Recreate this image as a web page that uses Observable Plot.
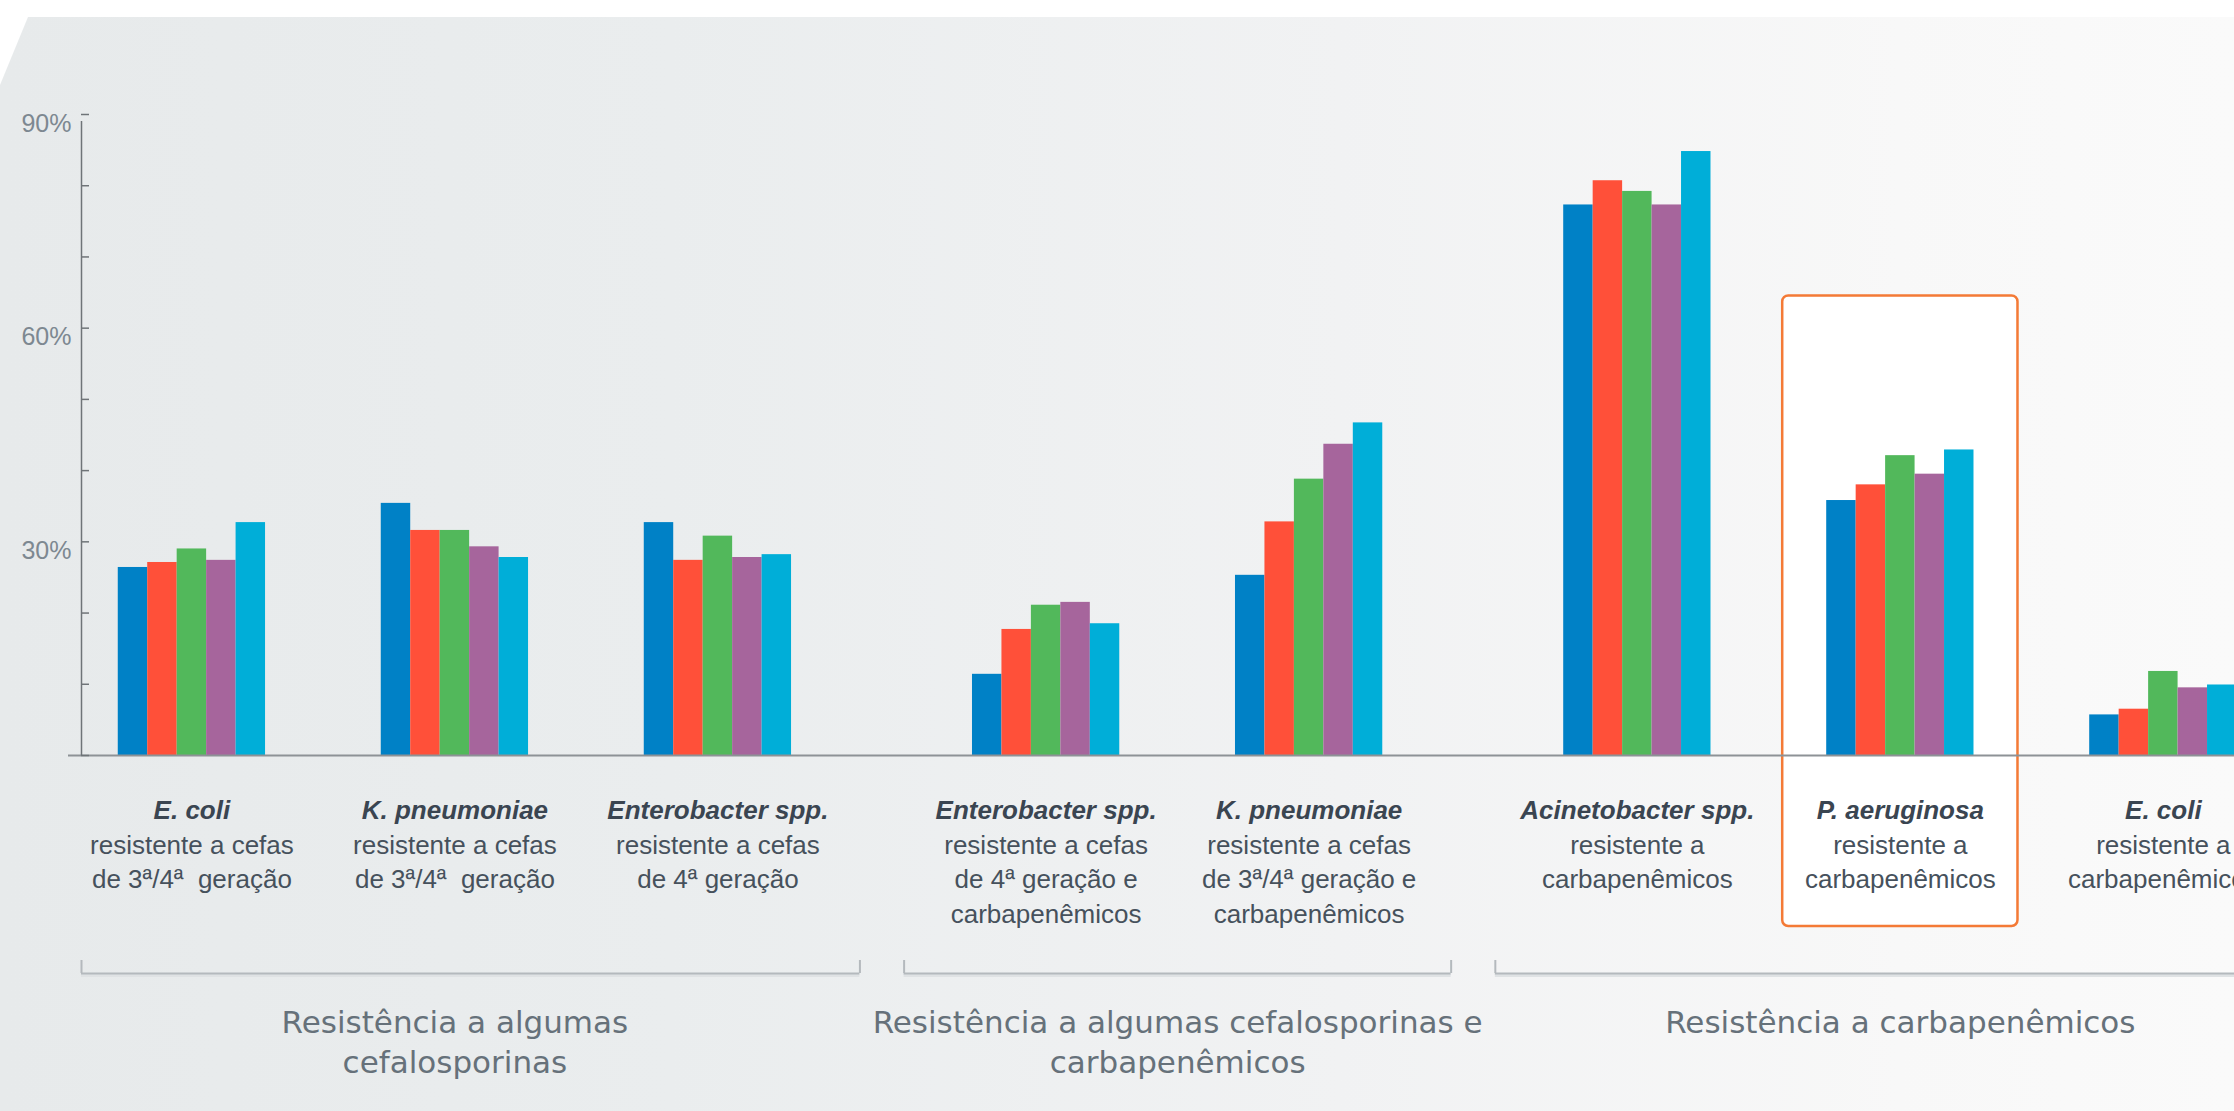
<!DOCTYPE html>
<html><head><meta charset="utf-8">
<script src="https://cdn.jsdelivr.net/npm/d3@7"></script>
<script src="https://cdn.jsdelivr.net/npm/@observablehq/plot@0.6"></script>
<style>
html,body{margin:0;padding:0;background:#fff;}
#wrap{position:relative;width:2234px;height:1111px;overflow:hidden;}
#bg{position:absolute;left:0;top:0;width:100%;height:100%;
  background:linear-gradient(90deg,#e7eaeb 0%,#eaedee 30%,#f1f2f3 60%,#f8f8f8 85%,#fafafa 100%);
  clip-path:polygon(28px 17px,100% 17px,100% 100%,0 100%,0 85px);}
#chart{position:absolute;left:0;top:0;}
</style></head><body>
<div id="wrap"><div id="bg"></div><div id="chart"></div></div>
<script>
// ---- data ----
const species = ["E. coli", "K. pneumoniae", "Enterobacter spp.", "Enterobacter spp.", "K. pneumoniae", "Acinetobacter spp.", "P. aeruginosa", "E. coli"];
const descriptions = [
  "resistente a cefas\nde 3ª/4ª  geração",
  "resistente a cefas\nde 3ª/4ª  geração",
  "resistente a cefas\nde 4ª geração",
  "resistente a cefas\nde 4ª geração e\ncarbapenêmicos",
  "resistente a cefas\nde 3ª/4ª geração e\ncarbapenêmicos",
  "resistente a\ncarbapenêmicos",
  "resistente a\ncarbapenêmicos",
  "resistente a\ncarbapenêmicos"
];
const groupSection = [0, 0, 0, 1, 1, 2, 2, 2];
const sectionLabels = [
  "Resistência a algumas\ncefalosporinas",
  "Resistência a algumas cefalosporinas e\ncarbapenêmicos",
  "Resistência a carbapenêmicos"
];
const seriesNames = ["Série 1", "Série 2", "Série 3", "Série 4", "Série 5"];
const serie1 = [26.4, 35.4, 32.7, 11.4, 25.3, 77.3, 35.8, 5.7];
const serie2 = [27.1, 31.6, 27.4, 17.7, 32.8, 80.7, 38.0, 6.5];
const serie3 = [29.0, 31.6, 30.8, 21.1, 38.8, 79.2, 42.1, 11.8];
const serie4 = [27.4, 29.3, 27.8, 21.5, 43.7, 77.3, 39.5, 9.5];
const serie5 = [32.7, 27.8, 28.2, 18.5, 46.7, 84.8, 42.9, 9.9];
const yMinorTicks = [0, 10, 20, 30, 40, 50, 60, 70, 80, 90];
const yLabelTicks = [30, 60, 90];
const highlightIndex = 6;

// ---- layout / style ----
const colors = ["#0081c6", "#ff5039", "#52b85b", "#a6659c", "#00aed8"];
const W = 2234, H = 1111;
const mLeft = 81, mTop = 114, mBottom = 356;
const unitPx = 263, firstCenterPx = 191.4;
const sectionGap = 0.248;     // extra space between sections (in group units)
const barW = 0.112;           // bar width (in group units)
const bracketGap = 0.084;
const xDomain = [(mLeft - firstCenterPx) / unitPx, (W - firstCenterPx) / unitPx];

const allSeries = [serie1, serie2, serie3, serie4, serie5];
const groups = species.map((s, i) => ({
  i, species: s, desc: descriptions[i], section: groupSection[i],
  pos: i + sectionGap * groupSection[i],
  max: d3.max(allSeries, a => a[i])
}));
const bars = [];
groups.forEach(g => allSeries.forEach((arr, k) => {
  const x1 = g.pos + (k - 2.5) * barW;
  bars.push({group: g.species, series: seriesNames[k], value: arr[g.i], x1, x2: x1 + barW});
}));
const sections = sectionLabels.map((label, s) => {
  const gs = groups.filter(g => g.section === s);
  return {label, first: gs[0].pos, last: gs[gs.length - 1].pos, center: d3.mean(gs, g => g.pos)};
});
sections.forEach((s, k) => {
  s.x1 = k === 0 ? xDomain[0] : (sections[k - 1].last + s.first) / 2 + bracketGap;
  s.x2 = k === sections.length - 1 ? xDomain[1] + 1 : (s.last + sections[k + 1].first) / 2 - bracketGap;
});
const bracketEnds = [];
sections.forEach((s, k) => {
  bracketEnds.push(s.x1);
  if (k < sections.length - 1) bracketEnds.push(s.x2);
});
const frameW = W - mLeft;
const labelFont = "'Liberation Sans', Arial, Helvetica, sans-serif";

const chart = Plot.plot({
  width: W, height: H,
  marginLeft: mLeft, marginRight: 0, marginTop: mTop, marginBottom: mBottom,
  style: {background: "transparent", fontFamily: labelFont, overflow: "visible"},
  x: {type: "linear", domain: xDomain, axis: null},
  y: {domain: [0, 90]},
  color: {domain: seriesNames, range: colors},
  marks: [
    // highlight box
    Plot.rect([groups[highlightIndex]], {
      x1: d => d.pos - 2.5 * barW, x2: d => d.pos + 2.5 * barW, y1: 0, y2: d => d.max,
      insetLeft: -44, insetRight: -44, insetTop: -154, insetBottom: -171,
      rx: 6, fill: "#ffffff", stroke: "#f47a36", strokeWidth: 2.5
    }),
    // bars
    Plot.rect(bars, {x1: "x1", x2: "x2", y1: 0, y2: "value", fill: "series"}),
    // baseline
    Plot.ruleY([0], {stroke: "#8d9296", strokeWidth: 2, insetLeft: -13}),
    // y axis line
    Plot.ruleX([xDomain[0]], {y1: 0, y2: 90, stroke: "#6f7478", strokeWidth: 1.5, insetBottom: -7}),
    // minor ticks
    Plot.ruleY(yMinorTicks, {stroke: "#6f7478", strokeWidth: 1.5, insetRight: frameW - 8}),
    // y labels
    Plot.axisY({ticks: yLabelTicks, tickSize: 0, tickPadding: 10, tickFormat: d => d + "%",
      fontSize: 25, color: "#7d8891", dy: 9, label: null}),
    // species names
    Plot.text(groups, {x: "pos", y: 0, text: "species", dy: 55, lineAnchor: "middle",
      fontWeight: "bold", fontStyle: "italic", fontSize: 26, fill: "#3a4551"}),
    // descriptions
    Plot.text(groups, {x: "pos", y: 0, text: "desc", dy: 74, lineAnchor: "top", lineHeight: 1.32,
      fontSize: 26, fill: "#46515c"}),
    // section brackets
    Plot.ruleY(sections, {x1: "x1", x2: "x2", y: 0, dy: 220, stroke: "#dfe2e4", strokeWidth: 3}),
    Plot.ruleY(sections, {x1: "x1", x2: "x2", y: 0, dy: 218, stroke: "#b4b9bd", strokeWidth: 2}),
    Plot.ruleX(bracketEnds, {x: d => d, y1: 0, y2: 0, insetTop: -13, dy: 218, stroke: "#b4b9bd", strokeWidth: 2}),
    // section labels
    Plot.text(sections, {x: "center", y: 0, text: "label", dy: 249, lineAnchor: "top", lineHeight: 1.29,
      fontSize: 31, fontFamily: "'DejaVu Sans', Verdana, sans-serif", fill: "#66717a"})
  ]
});
document.getElementById("chart").appendChild(chart);
</script>
</body></html>
